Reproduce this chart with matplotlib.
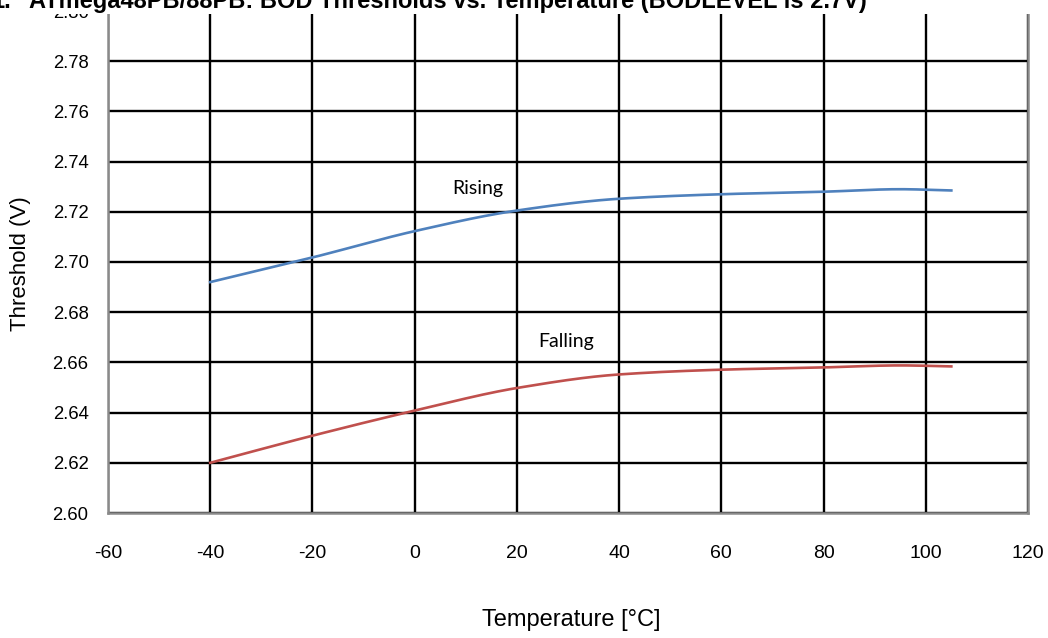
import matplotlib
matplotlib.use("Agg")
import matplotlib.pyplot as plt
from matplotlib.patches import Rectangle
import numpy as np

# Data
temps = [-40, -20, 0, 20, 40, 60, 80, 95, 105]
rising = [2.692, 2.7018, 2.7123, 2.7205, 2.7252, 2.7270, 2.7280, 2.7290, 2.7285]
falling = [2.620, 2.6308, 2.6408, 2.6498, 2.6552, 2.6571, 2.6580, 2.6588, 2.6584]

x_ticks = [-60, -40, -20, 0, 20, 40, 60, 80, 100, 120]
y_ticks = [2.60, 2.62, 2.64, 2.66, 2.68, 2.70, 2.72, 2.74, 2.76, 2.78, 2.80]

title = "ATmega48PB/88PB: BOD Thresholds vs. Temperature (BODLEVEL is 2.7V)"
fig_no = "1."

def smooth(xs, ys, n=300):
    # monotone cubic (PCHIP) through the read points
    xs = np.asarray(xs, float); ys = np.asarray(ys, float)
    h = np.diff(xs); d = np.diff(ys) / h
    m = np.zeros_like(ys)
    for k in range(1, len(xs) - 1):
        if d[k - 1] * d[k] > 0:
            w1 = 2 * h[k] + h[k - 1]; w2 = h[k] + 2 * h[k - 1]
            m[k] = (w1 + w2) / (w1 / d[k - 1] + w2 / d[k])
    m[0] = d[0]; m[-1] = d[-1]
    xx = np.linspace(xs[0], xs[-1], n)
    idx = np.clip(np.searchsorted(xs, xx) - 1, 0, len(xs) - 2)
    t = (xx - xs[idx]) / h[idx]
    h00 = 2*t**3 - 3*t**2 + 1; h10 = t**3 - 2*t**2 + t
    h01 = -2*t**3 + 3*t**2; h11 = t**3 - t**2
    yy = h00*ys[idx] + h10*h[idx]*m[idx] + h01*ys[idx+1] + h11*h[idx]*m[idx+1]
    return xx, yy

plt.rcParams['font.family'] = ['Liberation Sans', 'DejaVu Sans']

fig = plt.figure(figsize=(10.48, 6.38), dpi=100)
ax = fig.add_axes([108/1048, 1 - 513/638, (1028-108)/1048, (513-11)/638])

ax.set_xlim(-60, 120)
ax.set_ylim(2.60, 2.80)
ax.set_xticks(x_ticks)
ax.set_yticks(y_ticks)
ax.set_yticklabels([f"{v:.2f}" for v in y_ticks])
ax.set_xticklabels([str(v) for v in x_ticks])

ax.grid(True, color='black', linewidth=1.7)
ax.set_axisbelow(True)

ax.spines['top'].set_visible(False)
for side in ['left', 'bottom', 'right']:
    ax.spines[side].set_color('#8a8a8a')
    ax.spines[side].set_linewidth(1.8)
    ax.spines[side].set_zorder(3)

ax.tick_params(axis='both', length=0)
ax.tick_params(axis='y', pad=14, labelsize=13.3)
ax.tick_params(axis='x', pad=23, labelsize=14)

xr, yr = smooth(temps, rising)
xf, yf = smooth(temps, falling)
ax.plot(xr, yr, color='#4F81BD', linewidth=1.9, zorder=4)
ax.plot(xf, yf, color='#C0504D', linewidth=1.9, zorder=4)

ax.text(12.4, 2.7293, "Rising", family=['Lato', 'DejaVu Sans'], fontsize=14,
        ha='center', va='center')
ax.text(29.7, 2.6683, "Falling", family=['Lato', 'DejaVu Sans'], fontsize=14,
        ha='center', va='center')

fig.text(571/1048, 1 - 620/638, "Temperature [°C]", fontsize=17, ha='center', va='center')
fig.text(21/1048, 1 - 264/638, "Threshold (V)", fontsize=16, rotation=90,
         ha='center', va='center')

# white title band that hides the top of the plot (as in the cropped reference)
band = Rectangle((0, 1 - 14/638), 1, 14/638, transform=fig.transFigure,
                 facecolor='white', edgecolor='none', zorder=10)
fig.add_artist(band)
fig.text(11/1048, 1 - 8/638, fig_no, fontsize=17, fontweight='bold', ha='right',
         va='baseline', zorder=11)
fig.text(29/1048, 1 - 8/638, title, fontsize=17, fontweight='bold', ha='left',
         va='baseline', zorder=11)

fig.savefig("out.png", dpi=100)
